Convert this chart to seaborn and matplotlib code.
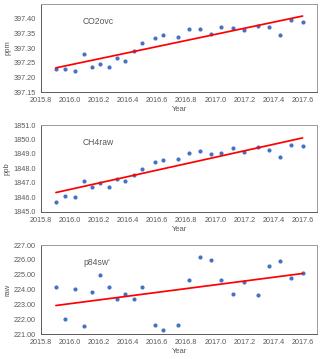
import matplotlib
matplotlib.use("Agg")
import matplotlib.pyplot as plt
import numpy as np
import seaborn as sns

# decimal year of each sample (shared by all three panels)
years = [
    2015.903, 2015.963, 2016.034, 2016.094, 2016.152, 2016.209, 2016.267,
    2016.322, 2016.379, 2016.439, 2016.492, 2016.584, 2016.641, 2016.740,
    2016.821, 2016.894, 2016.968, 2017.041, 2017.122, 2017.200, 2017.292,
    2017.370, 2017.446, 2017.522, 2017.600,
]

co2ovc = [
    397.227, 397.230, 397.222, 397.281, 397.234, 397.246, 397.237,
    397.267, 397.256, 397.290, 397.318, 397.335, 397.346, 397.336,
    397.365, 397.365, 397.349, 397.371, 397.368, 397.361, 397.375,
    397.373, 397.346, 397.397, 397.389,
]

ch4raw = [
    1845.72, 1846.08, 1846.03, 1847.16, 1846.75, 1847.02, 1846.69,
    1847.25, 1847.11, 1847.58, 1847.97, 1848.44, 1848.60, 1848.66,
    1849.09, 1849.22, 1849.00, 1849.09, 1849.43, 1849.11, 1849.49,
    1849.29, 1848.82, 1849.63, 1849.54,
]

p84sw = [
    224.18, 221.99, 224.05, 221.54, 223.82, 225.00, 224.14,
    223.35, 223.69, 223.39, 224.18, 221.59, 221.25, 221.61,
    224.66, 226.17, 225.97, 224.61, 223.71, 224.48, 223.66,
    225.58, 225.90, 224.77, 225.09,
]

panel_names = ["CO2ovc", "CH4raw", "p84sw'"]
panel_units = ["ppm", "ppb", "raw"]
panel_values = [co2ovc, ch4raw, p84sw]
panel_yticks = [
    [397.15, 397.20, 397.25, 397.30, 397.35, 397.40],
    [1845, 1846, 1847, 1848, 1849, 1850, 1851],
    [221, 222, 223, 224, 225, 226, 227],
]
panel_ylims = [(397.15, 397.45), (1845, 1851), (221, 227)]
panel_fmt = ["{:.2f}", "{:.1f}", "{:.2f}"]
x_ticks = [2015.8, 2016.0, 2016.2, 2016.4, 2016.6, 2016.8, 2017.0, 2017.2, 2017.4, 2017.6]

sns.set_style("white")
plt.rcParams["font.family"] = ["Liberation Sans", "DejaVu Sans"]

TEXT = "#595959"
fig = plt.figure(figsize=(3.2, 3.59), dpi=100)
# axes boxes in figure fractions: [left, bottom, width, height]
boxes = [
    [0.128, 0.7437, 0.863, 0.245],
    [0.128, 0.4095, 0.863, 0.2423],
    [0.128, 0.0696, 0.863, 0.2479],
]

for box, name, unit, vals, yt, ylim, fmt in zip(
    boxes, panel_names, panel_units, panel_values, panel_yticks, panel_ylims, panel_fmt
):
    ax = fig.add_axes(box)
    sns.regplot(
        x=np.array(years),
        y=np.array(vals),
        ax=ax,
        ci=None,
        scatter_kws={"s": 9, "color": "#4472C4", "linewidths": 0, "alpha": 1},
        line_kws={"color": "#FF0000", "linewidth": 1.25},
    )
    ax.set_xlim(2015.8, 2017.7)
    ax.set_ylim(*ylim)
    ax.set_xticks(x_ticks)
    ax.set_xticklabels([f"{t:.1f}" for t in x_ticks])
    ax.set_yticks(yt)
    ax.set_yticklabels([fmt.format(t) for t in yt])
    ax.tick_params(axis="both", labelsize=5.2, colors=TEXT, length=2, width=0.6,
                   direction="out", pad=1.5)
    ax.set_xlabel("Year", fontsize=5.5, color=TEXT, labelpad=1.5)
    ax.set_ylabel(unit, fontsize=5.5, color=TEXT, labelpad=2)
    for side in ("left", "bottom"):
        ax.spines[side].set_color("#595959")
        ax.spines[side].set_linewidth(0.7)
    for side in ("top", "right"):
        ax.spines[side].set_color("#9a9a9a")
        ax.spines[side].set_linewidth(0.7)
    ax.text(0.152, 0.80, name, transform=ax.transAxes, fontsize=6.2,
            color=TEXT, va="center", ha="left")

fig.savefig("out.png", dpi=100)
